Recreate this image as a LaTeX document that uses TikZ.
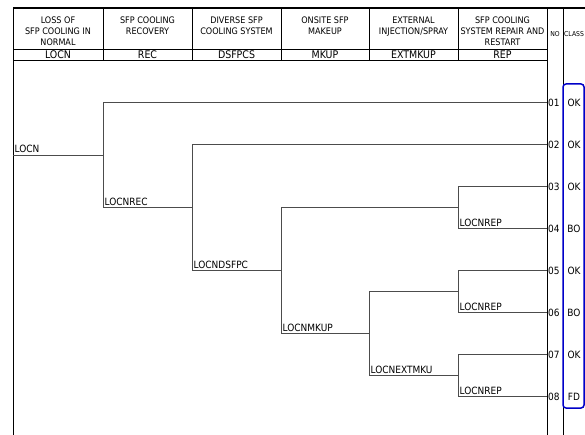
\documentclass[tikz,border=0pt]{standalone}
\usepackage{fontspec}
\setmainfont{DejaVu Sans Condensed}
\providecommand{\headfontsize}{\fontsize{9pt}{11.3pt}\selectfont}
\providecommand{\codefontsize}{\fontsize{10.5pt}{12pt}\selectfont}
\providecommand{\treefontsize}{\fontsize{10pt}{12pt}\selectfont}
\providecommand{\tinyfontsize}{\fontsize{6.8pt}{8pt}\selectfont}
\tikzset{
    frameline/.style={line width=0.8pt,black},
    treeline/.style={line width=0.8pt,black!70},
    headtext/.style={anchor=north,align=center,inner sep=0pt,font=\headfontsize},
    codetext/.style={anchor=base,inner sep=0pt,font=\codefontsize},
    seqlabel/.style={anchor=base west,inner sep=0pt,xshift=1.5pt,yshift=2.5pt,font=\treefontsize},
    seqno/.style={anchor=west,inner sep=1pt,font=\treefontsize},
    classtext/.style={inner sep=0pt,font=\treefontsize},
    classbox/.style={line width=1.5pt,draw={rgb,255:red,0;green,0;blue,200},rounded corners=3pt}
}

\begin{document}
\begin{tikzpicture}[x=1pt,y=-1pt]
    \pgfmathsetmacro{\rowtop}{102.7}
    \pgfmathsetmacro{\rowstep}{42}
    \pgfmathsetmacro{\colno}{547}
    \pgfmathsetmacro{\colclass}{563}
    \useasboundingbox (0,0) rectangle (585,435);
    \clip (0,0) rectangle (585,435);
    % header frame
    \draw[line width=1.2pt] (13,8) -- (600,8);
    \draw[frameline] (13,435) -- (13,8);
    \draw[frameline] (13,49) -- (\colno,49);
    \draw[frameline] (13,60) -- (\colno,60);
    \draw[frameline] (\colno,8) -- (\colno,435);
    \draw[frameline] (\colclass,8) -- (\colclass,435);
    \foreach \xa/\xb/\title/\code in {
        13/103/{LOSS OF\\SFP COOLING IN\\NORMAL}/LOCN,
        103/192/{SFP COOLING\\RECOVERY}/REC,
        192/281/{DIVERSE SFP\\COOLING SYSTEM}/DSFPCS,
        281/369/{ONSITE SFP\\MAKEUP}/MKUP,
        369/458/{EXTERNAL\\INJECTION/SPRAY}/EXTMKUP,
        458/547/{SFP COOLING\\SYSTEM REPAIR AND\\RESTART}/REP}
    {
        \draw[frameline] (\xb,8) -- (\xb,60);
        \node[headtext] (head-\code) at ({(\xa+\xb)/2},16.4) {\title};
        \node[codetext] (code-\code) at ({(\xa+\xb)/2},58.3) {\code};
    }
    \node[inner sep=0pt,font=\tinyfontsize] (head-no) at (555,34) {NO};
    \node[anchor=west,inner sep=0pt,font=\tinyfontsize] (head-class) at (564,34) {CLASS};
    % sequence ends
    \foreach \i/\cls in {1/OK,2/OK,3/OK,4/BO,5/OK,6/BO,7/OK,8/FD} {
        \node[seqno] (no0\i) at (\colno,{\rowtop+(\i-1)*\rowstep}) {0\i};
        \node[classtext] (cls0\i) at (574,{\rowtop+(\i-1)*\rowstep}) {\cls};
    }
    \draw[classbox] (563,84) rectangle (584,408);
    % branch points
    \coordinate (locn) at (13,155.2);
    \coordinate (locn-b) at (103,155.2);
    \coordinate (rec-b) at (192,207.7);
    \coordinate (dsf-b) at (281,270.7);
    \coordinate (mkup-b) at (369,333.7);
    \coordinate (rep1-b) at (458,207.7);
    \coordinate (rep2-b) at (458,291.7);
    \coordinate (ext-b) at (458,375.7);
    \draw[treeline] (locn) -- (locn-b) |- (no01.west);
    \draw[treeline] (locn-b) |- (rec-b);
    \draw[treeline] (rec-b) |- (no02.west);
    \draw[treeline] (rec-b) |- (dsf-b);
    \draw[treeline] (dsf-b) |- (rep1-b);
    \draw[treeline] (dsf-b) |- (mkup-b);
    \draw[treeline] (rep1-b) |- (no03.west);
    \draw[treeline] (rep1-b) |- (no04.west);
    \draw[treeline] (mkup-b) |- (rep2-b);
    \draw[treeline] (mkup-b) |- (ext-b);
    \draw[treeline] (rep2-b) |- (no05.west);
    \draw[treeline] (rep2-b) |- (no06.west);
    \draw[treeline] (ext-b) |- (no07.west);
    \draw[treeline] (ext-b) |- (no08.west);
    % branch labels
    \node[seqlabel] (lbl-locn) at (locn) {LOCN};
    \node[seqlabel] (lbl-rec) at (103,207.7) {LOCNREC};
    \node[seqlabel] (lbl-dsf) at (192,270.7) {LOCNDSFPC};
    \node[seqlabel] (lbl-mkup) at (281,333.7) {LOCNMKUP};
    \node[seqlabel] (lbl-ext) at (369,375.7) {LOCNEXTMKU};
    \foreach \i in {4,6,8}
        \node[seqlabel] (lbl-rep\i) at (458,{\rowtop+(\i-1)*\rowstep}) {LOCNREP};
\end{tikzpicture}
\end{document}
